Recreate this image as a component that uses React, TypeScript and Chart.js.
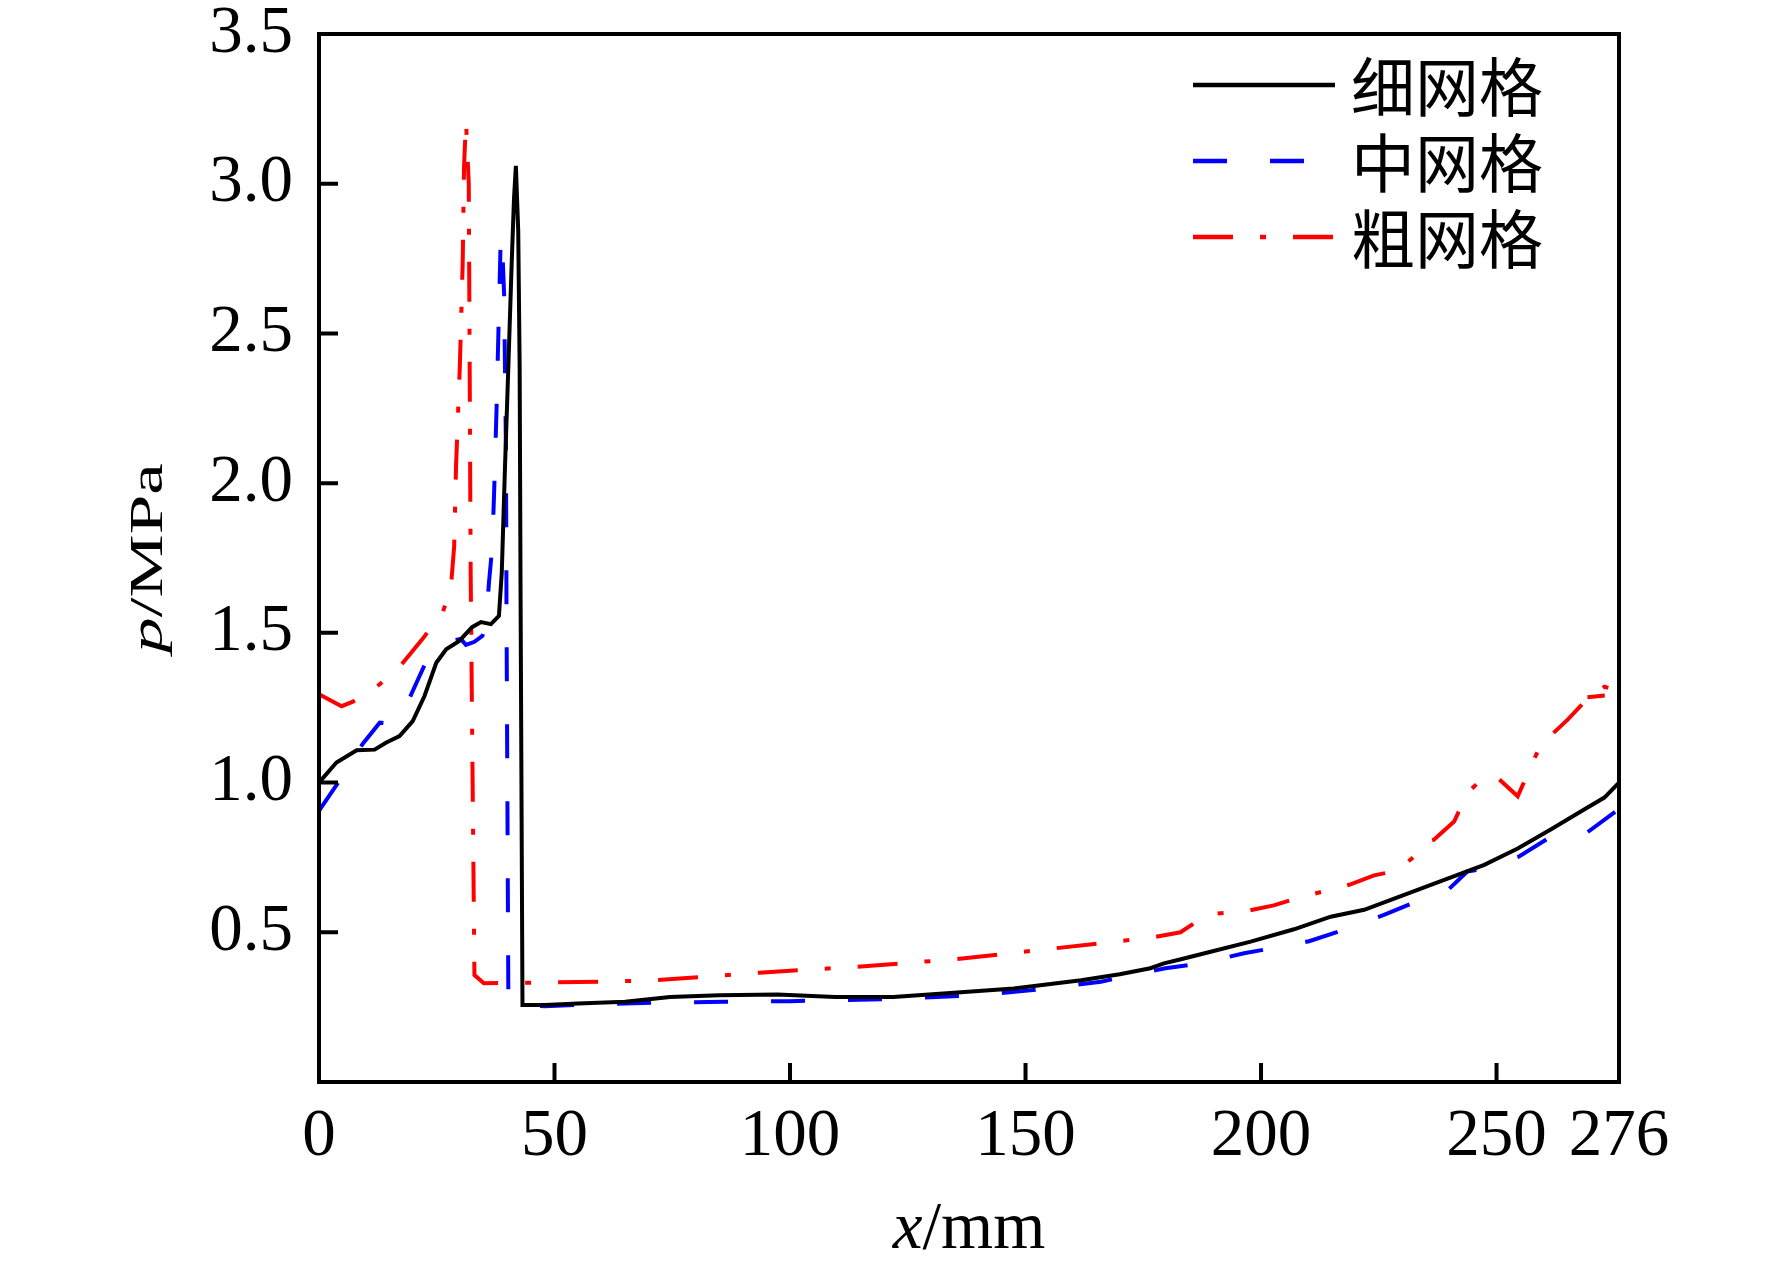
import { useEffect, useRef } from "react";
import { Chart, registerables } from "chart.js";
import type { Plugin } from "chart.js";

Chart.register(...registerables);

const seriesLabels = ["细网格", "中网格", "粗网格"];
const seriesColors = ["#000000", "#0000ff", "#ff0000"];
const seriesDashes: number[][] = [[], [34, 43], [40, 27, 6, 27]];

// fine mesh
const fineX = [0, 3.7, 8, 11.8, 14.3, 17.1, 19.9, 22.4, 24.9, 27, 29.8, 32.5, 34.4, 36.5, 38.2, 38.8, 39.5, 40.2, 40.9, 41.4, 41.8, 42.3, 42.6, 42.8, 43.2, 47.9, 55, 65, 74.5, 85, 97.3, 109.6, 121.9, 133.3, 147.5, 161.8, 170, 176.5, 179.4, 183, 189.3, 197.8, 207, 214.8, 221.9, 230.4, 238.9, 247.4, 254.5, 261.5, 268.6, 272.9, 276];
const fineP = [1.0, 1.067, 1.108, 1.11, 1.134, 1.155, 1.205, 1.289, 1.4, 1.445, 1.473, 1.519, 1.536, 1.529, 1.557, 1.7, 2.06, 2.39, 2.73, 2.95, 3.06, 2.84, 2.39, 1.61, 0.257, 0.257, 0.262, 0.268, 0.284, 0.29, 0.292, 0.284, 0.284, 0.296, 0.312, 0.34, 0.36, 0.38, 0.396, 0.41, 0.435, 0.469, 0.51, 0.552, 0.575, 0.625, 0.675, 0.725, 0.78, 0.843, 0.91, 0.95, 1.0];

// medium mesh
const mediumX = [0, 0.6, 4.8, 9.3, 12.9, 16, 18, 20.6, 23.5, 27, 30.1, 31.2, 33, 34.7, 35.4, 36.1, 36.8, 37.2, 37.7, 38.1, 38.6, 39.0, 39.3, 39.7, 39.8, 40.2, 41, 45, 47.9, 55, 71, 86, 100, 121, 140, 151, 166, 179.7, 187.2, 196.4, 203.5, 210.2, 216.9, 226.1, 231.8, 239.6, 243.8, 246.7, 254.8, 262.2, 266, 269.3, 276];
const mediumP = [0.905, 0.92, 1.017, 1.13, 1.2, 1.195, 1.24, 1.33, 1.43, 1.47, 1.48, 1.46, 1.47, 1.49, 1.53, 1.67, 1.79, 1.98, 2.25, 2.51, 2.83, 2.75, 2.63, 2.1, 1.61, 0.28, 0.265, 0.255, 0.253, 0.258, 0.265, 0.268, 0.27, 0.277, 0.29, 0.306, 0.335, 0.38, 0.396, 0.43, 0.45, 0.47, 0.505, 0.558, 0.595, 0.64, 0.703, 0.71, 0.753, 0.826, 0.83, 0.834, 0.912];

// coarse mesh
const coarseX = [0, 0.6, 4.8, 7.2, 11.1, 16.4, 22, 26.3, 28, 28.7, 29.1, 29.9, 30.5, 30.8, 31.2, 31.8, 32.2, 33, 35, 43, 60, 71.6, 93.5, 114.3, 135.1, 156, 177, 182.9, 187.9, 190.7, 196.4, 202.7, 208.4, 214.1, 219, 224, 229, 232.5, 234.6, 236.7, 241, 243.8, 247.4, 250.2, 254.5, 257.3, 260.1, 261.5, 265.1, 269.3, 272.9, 275, 276, 269.3];
const coarseP = [1.295, 1.29, 1.255, 1.27, 1.306, 1.373, 1.48, 1.57, 1.65, 1.79, 2.06, 2.39, 2.73, 3.06, 3.21, 3.0, 1.7, 0.357, 0.33, 0.331, 0.335, 0.34, 0.365, 0.385, 0.41, 0.446, 0.483, 0.5, 0.552, 0.563, 0.569, 0.59, 0.617, 0.64, 0.66, 0.69, 0.706, 0.753, 0.8, 0.809, 0.87, 0.965, 1.02, 1.016, 0.954, 1.055, 1.15, 1.157, 1.21, 1.28, 1.32, 1.31, 1.295, 1.285];

const xTicks = [0, 50, 100, 150, 200, 250, 276];
const yTicks = [0, 0.5, 1.0, 1.5, 2.0, 2.5, 3.0, 3.5];

const serif = '"Liberation Serif", "Times New Roman", serif';
const cjk = '"Noto Sans CJK SC", sans-serif';

const toPoints = (xs: number[], ps: number[]) => xs.map((x, i) => ({ x, y: ps[i] }));

// draws runs of text with different fonts, centred on x
function drawRuns(ctx: CanvasRenderingContext2D, runs: [string, string][], x: number, y: number) {
  let total = 0;
  const widths = runs.map(([font, text]) => {
    ctx.font = font;
    const w = ctx.measureText(text).width;
    total += w;
    return w;
  });
  let cx = x - total / 2;
  runs.forEach(([font, text], i) => {
    ctx.font = font;
    ctx.fillText(text, cx, y);
    cx += widths[i];
  });
}

const framePlugin: Plugin<"line"> = {
  id: "frame",
  afterDatasetsDraw(chart) {
    const { ctx, chartArea: a, scales } = chart;
    ctx.save();
    ctx.strokeStyle = "#000";
    ctx.lineWidth = 4;
    ctx.setLineDash([]);
    ctx.beginPath();
    scales.x.ticks.forEach((t) => {
      const px = scales.x.getPixelForValue(t.value);
      ctx.moveTo(px, a.bottom);
      ctx.lineTo(px, a.bottom - 19);
    });
    scales.y.ticks.forEach((t) => {
      const py = scales.y.getPixelForValue(t.value);
      ctx.moveTo(a.left, py);
      ctx.lineTo(a.left + 19, py);
    });
    ctx.stroke();
    ctx.strokeRect(a.left, a.top, a.right - a.left, a.bottom - a.top);
    ctx.restore();
  },
};

const legendPlugin: Plugin<"line"> = {
  id: "lineLegend",
  afterDraw(chart) {
    const { ctx, chartArea: a } = chart;
    ctx.save();
    chart.data.datasets.forEach((ds: any, i) => {
      const y = a.top + 51 + i * 76;
      ctx.strokeStyle = ds.borderColor;
      ctx.lineWidth = 4.5;
      ctx.setLineDash(ds.borderDash || []);
      ctx.beginPath();
      ctx.moveTo(a.right - 426, y);
      ctx.lineTo(a.right - 284, y);
      ctx.stroke();
      ctx.setLineDash([]);
      ctx.fillStyle = "#000";
      ctx.font = `64px ${cjk}`;
      ctx.textBaseline = "middle";
      ctx.textAlign = "left";
      ctx.fillText(ds.label, a.right - 268, y + 2);
    });
    ctx.restore();
  },
};

const titlePlugin: Plugin<"line"> = {
  id: "axisTitles",
  afterDraw(chart) {
    const { ctx, chartArea: a } = chart;
    ctx.save();
    ctx.fillStyle = "#000";
    ctx.textAlign = "left";
    ctx.textBaseline = "alphabetic";
    drawRuns(ctx, [[`italic 67px ${serif}`, "x"], [`67px ${serif}`, "/mm"]], (a.left + a.right) / 2, 1248);

    ctx.translate(162, (a.top + a.bottom) / 2);
    ctx.rotate(-Math.PI / 2);
    ctx.scale(1, 0.64);
    drawRuns(ctx, [[`italic 71px ${serif}`, "p"], [`71px ${serif}`, "/MPa"]], 0, 0);
    ctx.restore();
  },
};

const App = () => {
  const canvasRef = useRef<HTMLCanvasElement | null>(null);
  const chartRef = useRef<Chart<"line"> | null>(null);

  useEffect(() => {
    document.body.style.margin = "0";
    document.body.style.overflow = "hidden";
    if (!canvasRef.current) return;
    if (chartRef.current) chartRef.current.destroy();

    const series = [toPoints(fineX, fineP), toPoints(mediumX, mediumP), toPoints(coarseX, coarseP)];

    chartRef.current = new Chart(canvasRef.current, {
      type: "line",
      data: {
        datasets: series.map((data, i) => ({
          label: seriesLabels[i],
          data,
          borderColor: seriesColors[i],
          borderDash: seriesDashes[i],
          borderWidth: 4,
          pointRadius: 0,
          tension: 0,
          fill: false,
        })),
      },
      options: {
        animation: false,
        responsive: false,
        devicePixelRatio: 1,
        layout: { padding: { left: 0, top: 34, right: 153, bottom: 0 } },
        plugins: {
          legend: { display: false },
          tooltip: { enabled: false },
        },
        scales: {
          x: {
            type: "linear",
            min: 0,
            max: 276,
            grid: { display: false, drawTicks: false },
            border: { display: false },
            ticks: {
              autoSkip: false,
              maxRotation: 0,
              padding: 15,
              color: "#000",
              font: { family: serif, size: 67 },
              callback: (v) => String(v),
            },
            afterBuildTicks: (s) => {
              s.ticks = xTicks.map((value) => ({ value }));
            },
            afterFit: (s) => {
              s.height = 187;
              s.paddingLeft = 0;
              s.paddingRight = 0;
            },
          },
          y: {
            type: "linear",
            min: 0,
            max: 3.5,
            grid: { display: false, drawTicks: false },
            border: { display: false },
            ticks: {
              padding: 26,
              color: "#000",
              font: { family: serif, size: 67 },
              callback: (v) => (Number(v) === 0 ? "" : Number(v).toFixed(1)),
            },
            afterBuildTicks: (s) => {
              s.ticks = yTicks.map((value) => ({ value }));
            },
            afterFit: (s) => {
              s.width = 319;
              s.paddingTop = 0;
              s.paddingBottom = 0;
            },
          },
        },
      },
      plugins: [framePlugin, legendPlugin, titlePlugin],
    });

    return () => {
      if (chartRef.current) {
        chartRef.current.destroy();
        chartRef.current = null;
      }
    };
  }, []);

  return (
    <div style={{ width: "1772px", height: "1269px", background: "#fff" }}>
      <canvas ref={canvasRef} width={1772} height={1269} />
    </div>
  );
};

export default App;
